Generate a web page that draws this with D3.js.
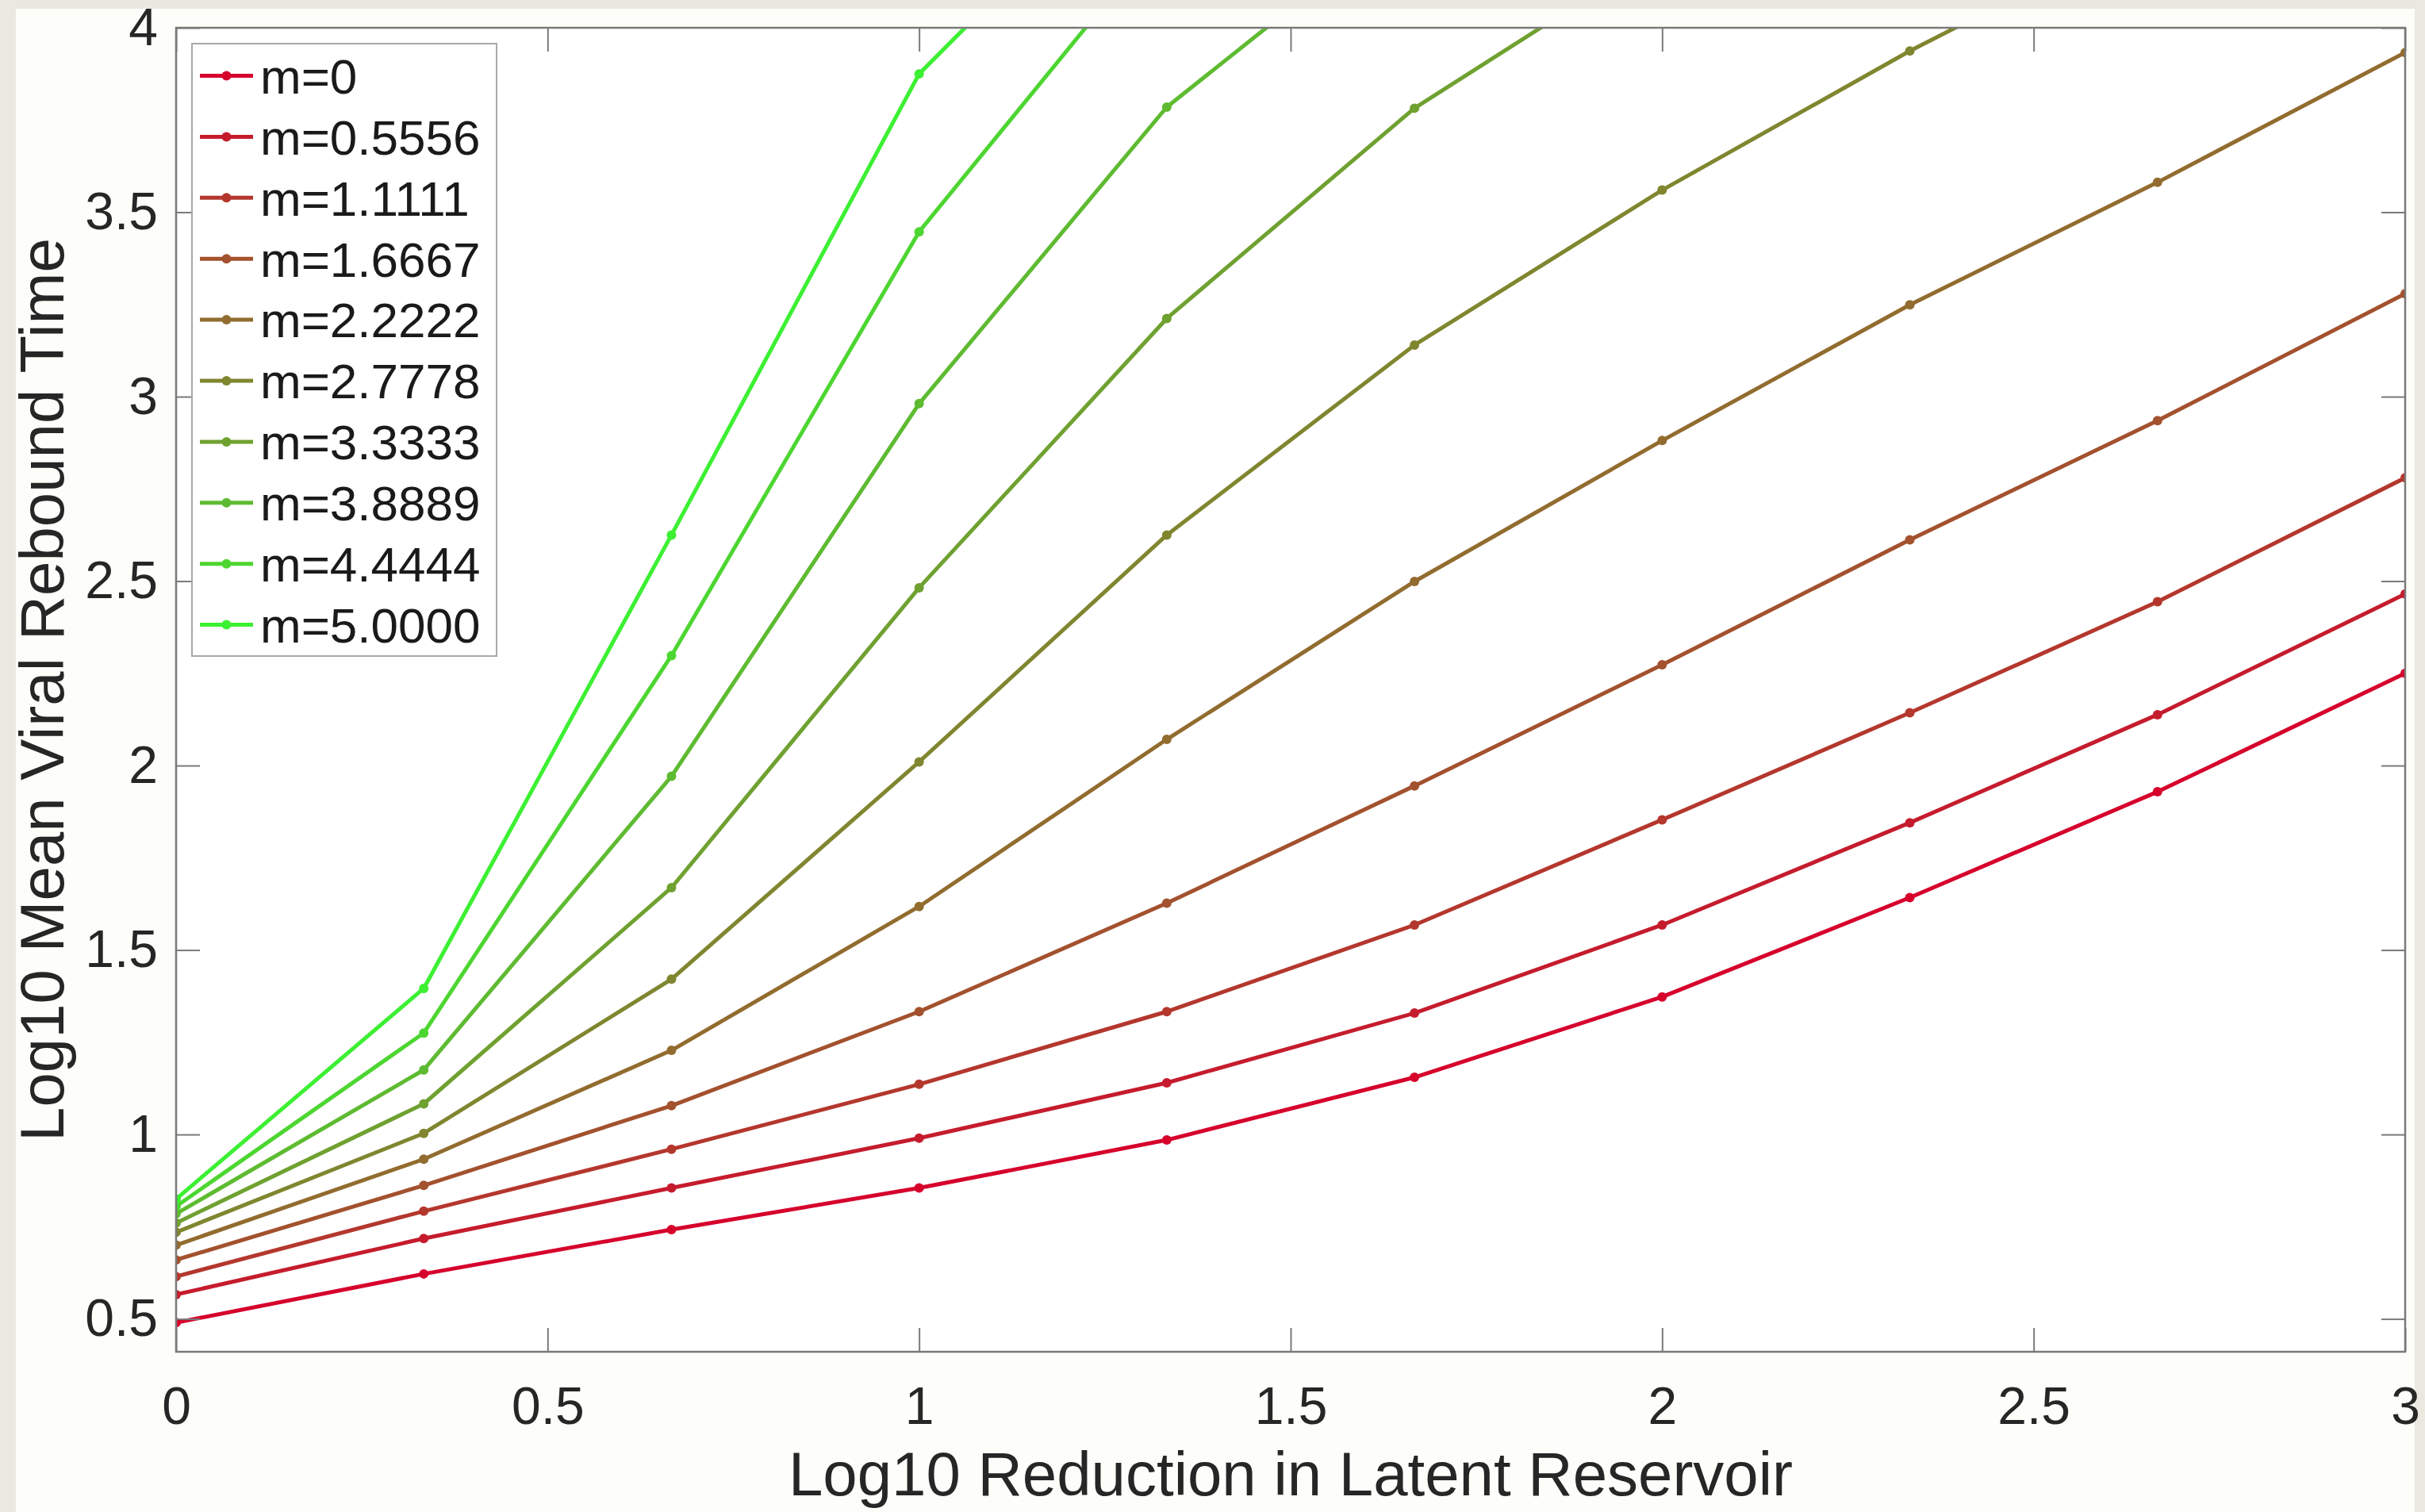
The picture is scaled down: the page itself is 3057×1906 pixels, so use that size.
<!DOCTYPE html>
<html>
<head>
<meta charset="utf-8">
<script src="https://cdn.jsdelivr.net/npm/d3@7"></script>
<style>
  body { margin: 0; background: #e9e9df; }
  svg { display: block; font-family: "Liberation Sans", Arial, Helvetica, sans-serif; }
</style>
</head>
<body>
<div id="chart"></div>
<script>
// log10 reduction in latent reservoir (x) for every curve
const reductions = [0, 0.3333, 0.6667, 1, 1.3333, 1.6667, 2, 2.3333, 2.6667, 3];
const mValues = [0, 0.5556, 1.1111, 1.6667, 2.2222, 2.7778, 3.3333, 3.8889, 4.4444, 5.0];
const mLabels = ["m=0", "m=0.5556", "m=1.1111", "m=1.6667", "m=2.2222", "m=2.7778", "m=3.3333", "m=3.8889", "m=4.4444", "m=5.0000"];

// log10 mean viral rebound time, one row per m (values above 4 are off the axes)
const rebound_m0    = [0.490, 0.622, 0.742, 0.855, 0.985, 1.155, 1.373, 1.642, 1.929, 2.250];
const rebound_m0556 = [0.566, 0.718, 0.855, 0.990, 1.140, 1.329, 1.568, 1.845, 2.138, 2.465];
const rebound_m1111 = [0.615, 0.792, 0.960, 1.136, 1.333, 1.568, 1.853, 2.143, 2.444, 2.780];
const rebound_m1667 = [0.660, 0.862, 1.078, 1.333, 1.627, 1.945, 2.273, 2.612, 2.935, 3.279];
const rebound_m2222 = [0.700, 0.933, 1.228, 1.618, 2.071, 2.499, 2.881, 3.249, 3.581, 3.933];
const rebound_m2778 = [0.735, 1.003, 1.421, 2.010, 2.625, 3.140, 3.560, 3.937, 4.280, 4.580];
const rebound_m3333 = [0.760, 1.083, 1.669, 2.482, 3.212, 3.782, 4.210, 4.580, 4.920, 5.250];
const rebound_m3889 = [0.785, 1.175, 1.971, 2.981, 3.785, 4.320, 4.800, 5.250, 5.650, 6.000];
const rebound_m4444 = [0.805, 1.275, 2.298, 3.447, 4.270, 4.900, 5.450, 5.950, 6.400, 6.800];
const rebound_m5000 = [0.825, 1.396, 2.625, 3.875, 4.550, 5.200, 5.800, 6.300, 6.750, 7.200];
const reboundRows = [rebound_m0, rebound_m0556, rebound_m1111, rebound_m1667, rebound_m2222,
                     rebound_m2778, rebound_m3333, rebound_m3889, rebound_m4444, rebound_m5000];

const xTicks = [0, 0.5, 1, 1.5, 2, 2.5, 3];
const yTicks = [0.5, 1, 1.5, 2, 2.5, 3, 3.5, 4];

function draw_chart() {
    const W = 3057, H = 1906;
    const margin = {top: 35, right: 25, bottom: 202, left: 222};
    const width = W - margin.left - margin.right,
          height = H - margin.top - margin.bottom;

    const svg = d3.select("#chart").append("svg")
        .attr("width", W)
        .attr("height", H);

    // figure frame
    svg.append("rect").attr("width", W).attr("height", H).attr("fill", "#e9e9df");
    svg.append("rect")
        .attr("x", 20).attr("y", 11)
        .attr("width", 3044 - 20).attr("height", H - 11)
        .attr("fill", "#fdfdf9");

    const g = svg.append("g").attr("transform", `translate(${margin.left}, ${margin.top})`);

    const x = d3.scaleLinear().domain([0, 3]).range([0, width]);
    const y = d3.scaleLinear().domain([0.411, 4]).range([height, 0]);
    const color = d3.scaleLinear().domain([0, 5])
        .range(["#d6022c", "#3cf032"])
        .interpolate(d3.interpolateRgb);

    g.append("rect").attr("width", width).attr("height", height).attr("fill", "#ffffff");

    g.append("clipPath").attr("id", "plot-clip")
        .append("rect").attr("width", width).attr("height", height);

    const series = mValues.map((m, i) => ({
        m,
        label: mLabels[i],
        points: reductions.map((r, j) => ({x: r, y: reboundRows[i][j]}))
    }));

    const line = d3.line().x(d => x(d.x)).y(d => y(d.y));
    const plot = g.append("g").attr("clip-path", "url(#plot-clip)");

    series.forEach(s => {
        plot.append("path")
            .datum(s.points)
            .attr("fill", "none")
            .attr("stroke", color(s.m))
            .attr("stroke-width", 5)
            .attr("stroke-linejoin", "round")
            .attr("d", line);
        plot.selectAll(null)
            .data(s.points)
            .join("circle")
            .attr("cx", d => x(d.x))
            .attr("cy", d => y(d.y))
            .attr("r", 6)
            .attr("fill", color(s.m));
    });

    // axes, MATLAB style: ticks inside, box on
    const axisColor = "#7a7a7a";
    const tickLen = 30;
    const styleAxis = sel => {
        sel.select(".domain").remove();
        sel.selectAll(".tick line").attr("stroke", axisColor).attr("stroke-width", 2);
        sel.selectAll(".tick text")
            .attr("fill", "#262626")
            .style("font-size", "66px");
    };

    const xAxis = g.append("g")
        .attr("transform", `translate(0, ${height})`)
        .call(d3.axisBottom(x).tickValues(xTicks).tickFormat(d3.format("")).tickSizeInner(-tickLen).tickPadding(44));
    styleAxis(xAxis);

    g.append("g")
        .call(d3.axisTop(x).tickValues(xTicks).tickFormat("").tickSizeInner(-tickLen))
        .call(styleAxis);

    const yAxis = g.append("g")
        .call(d3.axisLeft(y).tickValues(yTicks).tickFormat(d3.format("")).tickSizeInner(-tickLen).tickPadding(23));
    styleAxis(yAxis);

    g.append("g")
        .attr("transform", `translate(${width}, 0)`)
        .call(d3.axisRight(y).tickValues(yTicks).tickFormat("").tickSizeInner(-tickLen))
        .call(styleAxis);

    g.append("rect")
        .attr("width", width).attr("height", height)
        .attr("fill", "none")
        .attr("stroke", axisColor)
        .attr("stroke-width", 2.5);

    // axis titles
    g.append("text")
        .attr("x", width / 2)
        .attr("y", height + 181)
        .attr("text-anchor", "middle")
        .attr("fill", "#262626")
        .style("font-size", "78px")
        .text("Log10 Reduction in Latent Reservoir");

    g.append("text")
        .attr("transform", `translate(${80 - margin.left}, ${height / 2}) rotate(-90)`)
        .attr("text-anchor", "middle")
        .attr("fill", "#262626")
        .style("font-size", "78px")
        .text("Log10 Mean Viral Rebound Time");

    // legend
    const legend = svg.append("g").attr("transform", "translate(242, 55)");
    const rowH = 76.9;
    legend.append("rect")
        .attr("width", 384)
        .attr("height", 772)
        .attr("fill", "#ffffff")
        .attr("stroke", "#a8a8a8")
        .attr("stroke-width", 2);

    series.forEach((s, i) => {
        const row = legend.append("g").attr("transform", `translate(0, ${40.5 + i * rowH})`);
        row.append("line")
            .attr("x1", 10).attr("x2", 77)
            .attr("stroke", color(s.m))
            .attr("stroke-width", 5);
        row.append("circle")
            .attr("cx", 43.5)
            .attr("r", 6)
            .attr("fill", color(s.m));
        row.append("text")
            .attr("x", 86)
            .attr("dy", "0.36em")
            .attr("fill", "#1a1a1a")
            .style("font-size", "62px")
            .text(s.label);
    });
}
draw_chart();
</script>
</body>
</html>
